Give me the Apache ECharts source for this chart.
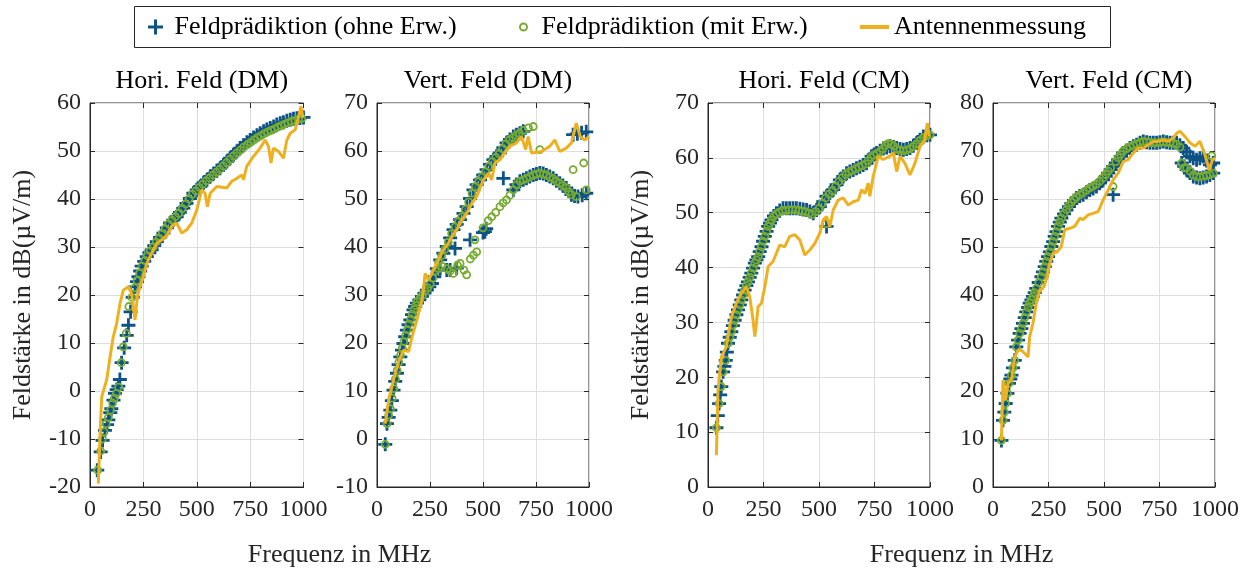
<!DOCTYPE html>
<html>
<head>
<meta charset="utf-8">
<script src="https://cdn.jsdelivr.net/npm/echarts@6/dist/echarts.min.js"></script>
<style>html,body{margin:0;padding:0;background:#fff;}#c{width:1249px;height:569px;}</style>
</head>
<body>
<div id="c"></div>
<script>
// ---------- DATA ----------
const seriesNames = ['Feldprädiktion (ohne Erw.)', 'Feldprädiktion (mit Erw.)', 'Antennenmessung'];
const panelTitles = ['Hori. Feld (DM)', 'Vert. Feld (DM)', 'Hori. Feld (CM)', 'Vert. Feld (CM)'];
const xTicks = [0, 250, 500, 750, 1000];
const yRanges = [[-20, 60], [-10, 70], [0, 70], [0, 80]];
const yLabel = 'Feldstärke in dB(µV/m)';
const xLabel = 'Frequenz in MHz';

// Panel 1: Hori. Feld (DM)
const hdmOhne = [[34,-16.5],[50,-12.7],[59,-10.3],[70,-8.2],[80,-7],[86,-6],[95,-4.5],[100,-3.7],[110,-1.9],[117,-0.5],[125,0.3],[133,1],[140,2.4],[148,5.9],[160,9],[172,11.6],[180,13.7],[190,16.5],[200,19.5],[211,21.7],[220,22.8],[227,23.8],[235,25],[242,26],[254,27],[266,28],[278,28.8],[289,29.4],[301,30.3],[313,31.1],[328,32],[344,32.9],[360,34],[375,35],[390,35.6],[406,36.3],[421,37.2],[437,38.1],[452,39.1],[468,40.1],[484,41.2],[500,41.9],[516,42.6],[532,43.4],[548,44],[563,44.7],[579,45.3],[594,45.9],[609,46.4],[625,47.1],[641,47.8],[656,48.5],[672,49.2],[688,49.9],[703,50.6],[719,51.2],[735,51.8],[750,52.3],[766,52.8],[782,53.3],[797,53.7],[813,54.1],[828,54.5],[844,54.8],[860,55.1],[875,55.5],[891,55.8],[906,56],[922,56.3],[938,56.5],[953,56.7],[969,56.8],[984,56.9],[1000,57]];
const hdmMit = [[36,-16.5],[50,-12.5],[58,-10],[66,-8.5],[76,-6.8],[86,-5.5],[96,-4],[106,-2.5],[114,-1.5],[124,-0.5],[134,0.8],[147,5.9],[156,9.2],[170,12],[182,17.6],[196,19.5],[208,21.5],[220,23],[232,24.5],[244,26],[256,27.2],[268,28.2],[282,29.2],[296,30],[310,31],[324,31.8],[338,32.8],[352,33.8],[368,34.8],[384,35.6],[400,36.3],[416,37],[432,38],[448,39],[464,40],[480,41],[496,41.7],[512,42.4],[528,43.1],[544,43.8],[560,44.4],[576,45],[592,45.6],[608,46.2],[624,46.9],[640,47.6],[656,48.3],[672,49],[688,49.6],[704,50.2],[720,50.8],[736,51.3],[752,51.8],[768,52.3],[784,52.8],[800,53.2],[816,53.6],[832,54],[848,54.3],[864,54.6],[880,55],[896,55.3],[912,55.6],[928,55.9],[944,56.2],[960,56.4],[976,56.6],[992,56.8]];
const hdmMess = [[39,-19.3],[48,-8],[55,-1.2],[66,0.5],[78,2.3],[94,7.1],[109,11.3],[125,14.1],[141,18.3],[156,21],[180,21.7],[195,20.3],[211,14.8],[222,19.7],[234,21.7],[250,23.8],[266,26.6],[289,28.7],[313,30.8],[336,31.5],[359,32.2],[383,34.3],[406,35],[430,32.9],[453,33.6],[477,35],[500,37.7],[523,41.9],[539,41.2],[550,38.4],[563,41.2],[594,42.6],[641,42.3],[664,43.7],[688,44.3],[711,45],[719,44],[734,46.8],[766,48.9],[797,50.6],[820,52.3],[836,51],[848,47.5],[859,50.6],[883,49.9],[906,48.5],[922,52.3],[938,53.7],[961,54.4],[977,57.2],[988,59.3],[997,56.9]];

// Panel 2: Vert. Feld (DM)
const vdmOhne = [[39,-1.1],[47,3.2],[55,4.5],[63,6],[70,8],[78,10.2],[86,12],[94,13.7],[102,15.5],[110,17.1],[118,18.5],[125,19.9],[133,21.3],[141,22.7],[149,23.8],[157,24.8],[165,25.9],[172,26.9],[180,27.6],[188,28.3],[200,29],[212,29.7],[224,30.4],[235,31],[247,31.7],[259,32.4],[270,33.8],[282,35.5],[298,37.3],[313,38.7],[329,40.1],[345,41.9],[361,43.6],[376,44.7],[392,45.7],[408,47],[423,48.4],[439,50.1],[455,51.9],[470,53],[486,54],[501,55],[517,56.1],[533,57.2],[549,58.2],[564,58.9],[580,59.6],[596,60.7],[611,61.7],[627,62.4],[643,63],[658,63.4],[674,63.7],[690,64.1],[298,35.5],[329,35.2],[345,35.2],[368,39.7],[376,35.6],[439,41.5],[500,43],[509,43.2],[515,43.8],[596,54.3],[643,51.9],[658,53],[674,53.7],[690,54],[705,54.3],[721,54.7],[737,55],[752,55.2],[768,55.4],[784,55.3],[799,55],[815,54.7],[831,54.3],[846,53.8],[862,53.3],[877,52.8],[893,52.3],[905,51.6],[917,50.9],[932,50.6],[948,50.5],[968,50.8],[987,51.2],[925,63.4],[945,63.6],[965,63.8],[987,64]];
const vdmMit = [[39,-1.1],[47,3.2],[55,5],[63,6.3],[71,8.5],[79,10.5],[87,12.5],[95,14.3],[103,16],[111,17.5],[119,19],[127,20.3],[135,21.6],[143,22.8],[151,24],[159,25],[167,26],[175,27],[183,27.8],[191,28.6],[203,29.3],[215,30],[227,30.8],[239,31.5],[251,32.3],[263,33.5],[275,35],[290,36.8],[305,38.2],[320,39.5],[336,41],[352,42.8],[368,44.2],[384,45.3],[400,46.3],[416,47.8],[432,49.4],[448,51.2],[464,52.6],[480,53.6],[496,54.6],[512,55.7],[528,56.8],[544,57.8],[560,58.7],[576,59.4],[592,60.5],[608,61.5],[624,62.3],[640,62.8],[656,63.3],[672,63.7],[690,64.3],[715,64.8],[737,65.1],[290,35.5],[306,36],[330,35.5],[345,35],[360,34.5],[380,36.2],[392,36.6],[410,35.2],[423,34.2],[440,37.5],[455,38.3],[462,41.5],[470,39],[500,44],[525,45.5],[541,46.3],[560,47.2],[580,48.4],[595,49.2],[611,49.8],[627,50.8],[643,51.9],[658,53],[674,53.7],[690,54],[705,54.3],[721,54.6],[737,55],[752,55.2],[768,55.4],[784,55.2],[799,55],[815,54.6],[831,54.2],[846,53.7],[862,53.3],[877,52.8],[893,52.3],[905,51.5],[917,50.9],[940,50.5],[987,51.9],[768,60.3],[925,56.1],[975,57.5]];
const vdmMess = [[39,3.2],[55,8.1],[78,12.3],[102,16.1],[125,18.5],[149,18.2],[165,21.3],[188,24.8],[212,29],[219,31],[227,34.5],[243,33.1],[266,35.2],[290,37.3],[313,39.4],[337,40.8],[353,42.2],[376,43.6],[400,45.7],[423,47],[447,49.1],[470,50.5],[502,54],[525,55.4],[541,54],[556,57.5],[580,58.2],[603,59.6],[627,61],[658,61.7],[682,63],[701,60.3],[713,63],[729,59.6],[776,59.9],[815,61],[839,62.3],[862,59.9],[893,60.6],[917,61.7],[940,65.8],[959,63],[980,62.3],[1000,63]];

// Panel 3: Hori. Feld (CM)
const hcmOhne = [[38,10.8],[44,13],[50,15.2],[55,16.8],[60,18.3],[68,21],[74,22],[80,23.1],[85,24.6],[90,26.2],[98,27.3],[105,28.3],[112,29.4],[120,30.4],[128,31.4],[135,32.3],[143,33.2],[150,34.1],[158,35],[165,35.9],[173,36.7],[180,37.4],[188,38.2],[195,39],[203,39.9],[211,40.8],[218,41.4],[226,42],[233,42.9],[241,43.8],[248,44.8],[256,45.7],[264,46.6],[271,47.5],[279,48.1],[286,48.7],[297,49.4],[308,49.9],[323,50.4],[338,50.8],[353,50.8],[368,50.8],[383,50.8],[398,50.8],[414,50.7],[429,50.6],[444,50.5],[459,50.2],[474,49.9],[489,50.5],[504,51.1],[519,52],[534,53],[534,47.5],[549,53.6],[564,54.2],[579,55.1],[594,56],[609,56.6],[624,57.2],[639,57.5],[654,57.8],[669,58.1],[684,58.4],[699,58.7],[714,59],[726,59.7],[737,60.3],[748,60.6],[759,60.9],[775,61.3],[790,61.7],[805,61.9],[820,62.1],[835,62],[850,61.8],[865,61.6],[880,61.5],[895,61.6],[910,61.8],[925,62.2],[940,62.7],[955,63.3],[970,63.9],[985,64.1],[1000,64.2]];
const hcmMit = [[38,10.8],[50,15.2],[60,18.3],[68,21],[80,23.1],[90,26.2],[98,27.3],[105,28.3],[113,29.5],[120,30.4],[128,31.4],[135,32.3],[143,33.2],[150,34.1],[158,35],[165,35.9],[173,36.7],[180,37.4],[188,38.2],[195,39],[203,39.9],[211,40.8],[218,41.4],[226,42],[233,42.9],[241,43.8],[248,44.8],[256,45.7],[264,46.6],[271,47.5],[279,48.1],[286,48.7],[297,49.4],[308,49.8],[320,50.1],[335,50.4],[350,50.4],[365,50.5],[380,50.5],[395,50.5],[410,50.4],[425,50.3],[440,50.2],[455,49.9],[470,49.7],[485,50.2],[500,50.8],[515,51.7],[530,52.7],[534,48],[545,53.4],[560,54],[575,54.8],[590,55.7],[605,56.4],[620,57],[635,57.4],[650,57.7],[665,58],[680,58.3],[695,58.6],[710,58.9],[722,59.5],[734,60.1],[746,60.5],[760,60.8],[775,61.2],[788,61.7],[800,62.3],[812,62.6],[824,62.5],[836,62.2],[850,61.6],[865,61.4],[880,61.3],[895,61.4],[910,61.7],[925,62.1],[940,62.6],[955,63.2],[970,63.7],[985,64],[1000,64.2]];
const hcmMess = [[38,5.8],[45,17.7],[60,23.7],[83,25.6],[105,31],[128,33.5],[150,35.3],[173,36.5],[188,34.7],[203,30.4],[211,27.4],[218,29.8],[226,32.9],[241,33.5],[256,36.5],[271,40.2],[293,41.1],[308,42.6],[323,44.1],[346,43.8],[368,45.7],[391,46],[414,45],[436,42.3],[459,43.2],[481,44.4],[504,46.3],[519,48.7],[534,49.3],[549,47.5],[564,50.5],[586,52.3],[609,52.7],[632,51.4],[654,52],[677,52.3],[692,54.2],[707,53.5],[722,55.4],[729,53],[744,56.6],[767,60.3],[789,59.7],[820,60.3],[835,60.9],[850,57.5],[865,60.3],[887,59],[910,56.9],[932,59],[955,62.1],[977,63.3],[988,66.3],[997,63.9]];

// Panel 4: Vert. Feld (CM)
const vcmOhne = [[38,9.7],[45,13.9],[51,15.6],[57,17.4],[65,19.5],[72,21.6],[78,22.5],[83,23.3],[90,24.8],[98,26.4],[105,29.2],[113,30.6],[120,32],[128,33],[135,34.1],[143,35.3],[150,36.5],[158,37.4],[165,38.3],[173,39],[180,39.7],[188,40.5],[195,41.4],[206,42.6],[218,43.8],[225,44.8],[233,45.9],[240,47],[248,48],[256,49],[263,50.1],[271,51.1],[278,52.2],[286,53.2],[293,54.3],[301,55.2],[308,56],[320,56.9],[331,57.7],[342,58.4],[353,59.1],[365,59.7],[376,60.2],[391,60.6],[406,60.9],[421,61.4],[436,61.9],[451,62.2],[466,62.6],[481,63.3],[496,64],[508,64.7],[519,65.4],[530,66.1],[541,66.8],[541,60.9],[553,67.5],[564,68.2],[575,68.9],[586,69.6],[602,70.1],[617,70.6],[632,71],[647,71.3],[662,71.7],[677,72],[692,71.8],[707,71.7],[722,71.7],[737,71.7],[752,71.8],[767,72],[782,71.8],[797,71.7],[812,71.7],[827,71.7],[842,71.2],[857,70.6],[872,69.8],[887,68.9],[902,68.5],[917,68.2],[932,68.5],[947,68.9],[962,68],[977,67.1],[992,67.5],[850,67.5],[861,66.8],[872,66.1],[887,65.4],[902,64.7],[917,64.5],[932,64.3],[947,64.5],[962,64.7],[977,65],[992,65.4]];
const vcmMit = [[38,9.7],[45,13.9],[51,15.6],[57,17.4],[65,19.5],[72,21.6],[83,23.3],[90,24.8],[98,26.4],[105,29.2],[113,30.6],[120,32],[128,33],[135,34.1],[143,35.3],[150,36.5],[158,37.4],[165,38.3],[173,39],[180,39.7],[188,40.5],[195,41.4],[206,42.6],[218,43.8],[225,44.8],[233,45.9],[240,47],[248,48],[256,49],[263,50.1],[271,51.1],[278,52.2],[286,53.2],[293,54.3],[301,55.2],[308,56],[320,57],[331,57.8],[342,58.6],[353,59.3],[365,59.9],[376,60.4],[391,60.9],[406,61.3],[421,61.8],[436,62.3],[451,62.7],[466,63.1],[481,63.7],[496,64.4],[508,65.1],[519,65.8],[530,66.5],[541,62.6],[553,67.8],[564,68.6],[575,69.3],[586,70],[602,70.5],[617,70.9],[632,71.2],[647,71.5],[662,71.8],[677,72],[692,71.9],[707,71.8],[722,71.7],[737,71.7],[752,71.8],[767,71.9],[782,71.8],[797,71.7],[812,71.6],[827,71.4],[842,70.8],[850,67.5],[861,66.5],[872,66.5],[887,65.8],[902,65],[917,64.7],[932,64.6],[947,64.8],[962,64.9],[977,65.1],[992,65.4],[985,69]];
const vcmMess = [[38,9.7],[45,22.3],[56,18.1],[68,21.6],[83,22.3],[98,27.1],[113,28.5],[128,28.5],[143,27.8],[158,27.1],[165,31.3],[180,34.1],[195,38.3],[211,41],[229,41.7],[244,43.8],[256,46.6],[271,48.7],[289,49],[308,50.1],[323,53.6],[346,53.9],[368,54.3],[391,56],[406,55.7],[429,56.7],[451,57],[474,57.4],[496,59.8],[519,61.9],[541,64],[564,65.4],[586,67.8],[609,68.2],[632,69.6],[654,70.6],[677,70.6],[699,71.3],[722,72],[744,72],[767,72.3],[789,72],[812,72.7],[827,73.7],[842,74.1],[865,73],[887,71.7],[910,71],[932,72],[955,69.2],[974,66.1],[989,68.2],[1000,68.5]];

const ohneData = [hdmOhne, vdmOhne, hcmOhne, vcmOhne];
const mitData = [hdmMit, vdmMit, hcmMit, vcmMit];
const messData = [hdmMess, vdmMess, hcmMess, vcmMess];

// ---------- STYLE / LAYOUT ----------
const FONT = "'Liberation Serif', 'DejaVu Serif', serif";
const AX = '#262626';
const BLUE = '#0d5386', GREEN = '#77ac30', ORANGE = '#edb120';
const PLUS = 'path://M0,4 L4,4 L4,0 L6,0 L6,4 L10,4 L10,6 L6,6 L6,10 L4,10 L4,6 L0,6 Z';
const grids = [
  {left: 90, top: 103, width: 213.5, height: 384},
  {left: 377, top: 103, width: 212, height: 384},
  {left: 708, top: 103, width: 222, height: 384},
  {left: 993, top: 103, width: 222, height: 384}
];
const plain = v => String(v);

const xAxes = [], yAxes = [], series = [], titles = [];
grids.forEach((g, i) => {
  g.show = true; g.borderColor = AX; g.borderWidth = 1; g.backgroundColor = 'transparent';
  xAxes.push({
    type: 'value', gridIndex: i, min: xTicks[0], max: xTicks[xTicks.length - 1], interval: xTicks[1] - xTicks[0],
    axisLine: {show: true, onZero: false, lineStyle: {color: AX}},
    axisTick: {show: true, inside: true, length: 5, lineStyle: {color: AX}},
    axisLabel: {color: AX, fontFamily: FONT, fontSize: 24, margin: 11, showMaxLabel: true, showMinLabel: true, formatter: plain},
    splitLine: {show: true, lineStyle: {color: '#dedede', width: 1}}
  });
  yAxes.push({
    type: 'value', gridIndex: i, min: yRanges[i][0], max: yRanges[i][1], interval: 10,
    axisLine: {show: true, onZero: false, lineStyle: {color: AX}},
    axisTick: {show: true, inside: true, length: 5, lineStyle: {color: AX}},
    axisLabel: {color: AX, fontFamily: FONT, fontSize: 24, margin: 9, formatter: plain},
    splitLine: {show: true, lineStyle: {color: '#dedede', width: 1}},
    name: (i === 0 || i === 2) ? yLabel : '',
    nameLocation: 'middle', nameGap: 54, nameRotate: 90,
    nameTextStyle: {color: AX, fontFamily: FONT, fontSize: 26}
  });
  titles.push({
    text: panelTitles[i], left: g.left + g.width / 2, top: 63, textAlign: 'center',
    textStyle: {color: '#000', fontFamily: FONT, fontSize: 26, fontWeight: 'normal'}
  });
  series.push({
    name: seriesNames[0], type: 'scatter', xAxisIndex: i, yAxisIndex: i, data: ohneData[i],
    symbol: PLUS, symbolSize: 14, symbolKeepAspect: true, z: 2,
    itemStyle: {color: BLUE, opacity: 1}, emphasis: {disabled: true}
  });
  series.push({
    name: seriesNames[1], type: 'scatter', xAxisIndex: i, yAxisIndex: i, data: mitData[i],
    symbol: 'circle', symbolSize: 7, z: 3,
    itemStyle: {color: 'rgba(0,0,0,0)', borderColor: GREEN, borderWidth: 1.8, opacity: 1}, emphasis: {disabled: true}
  });
  series.push({
    name: seriesNames[2], type: 'line', xAxisIndex: i, yAxisIndex: i, data: messData[i],
    showSymbol: false, symbol: 'none', z: 4, clip: true,
    lineStyle: {color: ORANGE, width: 3}, itemStyle: {color: ORANGE}, emphasis: {disabled: true}
  });
});
// extra top / right axes for ticks on all sides
grids.forEach((g, i) => {
  xAxes.push({type: 'value', gridIndex: i, position: 'top', min: xTicks[0], max: xTicks[xTicks.length - 1], interval: xTicks[1] - xTicks[0],
    axisLine: {show: false, onZero: false}, axisTick: {show: true, inside: true, length: 5, lineStyle: {color: AX}}, axisLabel: {show: false}, splitLine: {show: false}});
  yAxes.push({type: 'value', gridIndex: i, position: 'right', min: yRanges[i][0], max: yRanges[i][1], interval: 10,
    axisLine: {show: false, onZero: false}, axisTick: {show: true, inside: true, length: 5, lineStyle: {color: AX}}, axisLabel: {show: false}, splitLine: {show: false}});
});

const legendText = {color: '#000', fontFamily: FONT, fontSize: 26};
const option = {
  animation: false,
  backgroundColor: '#fff',
  title: titles,
  grid: grids,
  xAxis: xAxes,
  yAxis: yAxes,
  legend: [
    {left: 148, top: 14, padding: 0, itemWidth: 28, itemHeight: 15, selectedMode: false,
      data: [{name: seriesNames[0], icon: PLUS}], itemStyle: {color: BLUE}, textStyle: legendText},
    {left: 519, top: 14, padding: 0, itemWidth: 26, itemHeight: 7, selectedMode: false,
      data: [{name: seriesNames[1], icon: 'circle'}], itemStyle: {color: 'rgba(0,0,0,0)', borderColor: GREEN, borderWidth: 2}, textStyle: legendText},
    {left: 860, top: 14, padding: 0, itemWidth: 29, itemHeight: 4, selectedMode: false,
      data: [{name: seriesNames[2], icon: 'rect'}], itemStyle: {color: ORANGE}, lineStyle: {width: 0}, textStyle: legendText}
  ],
  graphic: [
    {type: 'rect', z: -10, shape: {x: 134.5, y: 6.5, width: 976, height: 41}, style: {fill: 'none', stroke: AX, lineWidth: 1}},
    {type: 'text', x: (grids[0].left + grids[1].left + grids[1].width) / 2, y: 555,
      style: {text: xLabel, fontFamily: FONT, fontSize: 26, fill: AX, textAlign: 'center', textVerticalAlign: 'middle'}},
    {type: 'text', x: (grids[2].left + grids[3].left + grids[3].width) / 2, y: 555,
      style: {text: xLabel, fontFamily: FONT, fontSize: 26, fill: AX, textAlign: 'center', textVerticalAlign: 'middle'}}
  ],
  series: series
};
const chart = echarts.init(document.getElementById('c'), null, {renderer: 'canvas'});
chart.setOption(option);
</script>
</body>
</html>
